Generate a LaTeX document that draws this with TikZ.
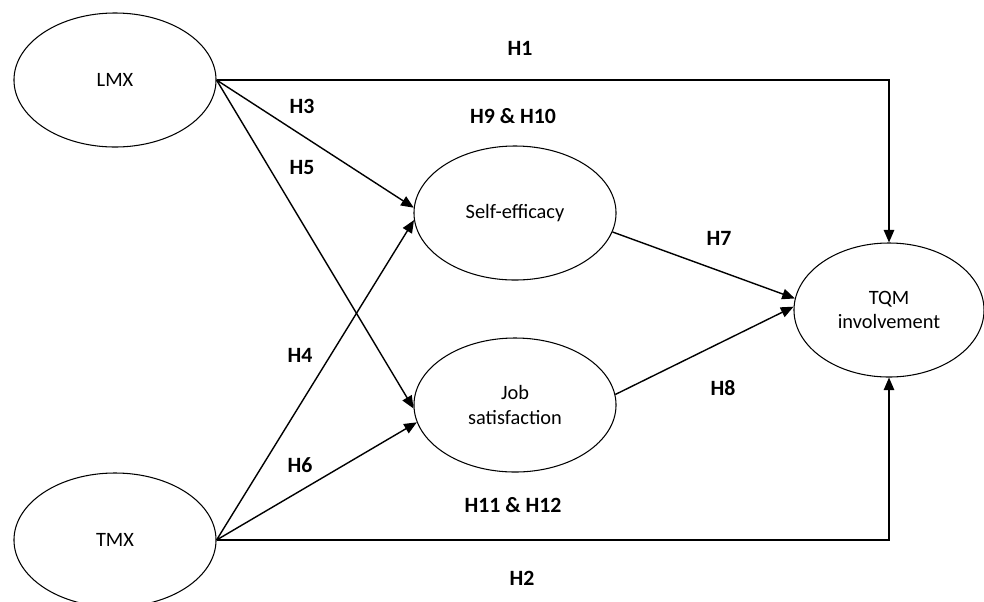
\documentclass[tikz,border=0pt]{standalone}
\usepackage{fontspec}
\setmainfont{Carlito}
\usetikzlibrary{shapes.geometric,arrows.meta}

\tikzset{
  construct/.style={
    ellipse,
    draw=black,
    line width=0.75pt,
    minimum width=5.05cm,
    minimum height=3.35cm,
    inner sep=0pt,
    align=center,
    font=\fontsize{14.5}{17.5}\selectfont
  },
  hyp/.style={font=\bfseries\fontsize{15.5}{18}\selectfont},
  link/.style={
    line width=1pt,
    -{Triangle[length=9pt,width=7.5pt]}
  }
}

\begin{document}
\begin{tikzpicture}[x=0.025cm, y=-0.025cm]
  \useasboundingbox (0,0) rectangle (984,601);

  % Exchange constructs
  \node[construct] (lmx) at (115,80) {LMX};
  \node[construct] (tmx) at (115,540) {TMX};

  % Mediators
  \node[construct] (se) at (515,213) {Self-efficacy};
  \node[construct] (js) at (515,405) {Job\\satisfaction};

  % Outcome
  \node[construct, minimum width=4.75cm] (tqm) at (889,310) {TQM\\involvement};

  % Direct paths
  \draw[link] (lmx.east) -| (tqm.north);
  \draw[link] (tmx.east) -| (tqm.south);

  % Paths to mediators
  \draw[link] (lmx.east) -- (se.177);
  \draw[link] (lmx.east) -- (js.182);
  \draw[link] (tmx.east) -- (se.184);
  \draw[link] (tmx.east) -- (js.190);

  % Mediators to outcome
  \draw[link] (se.349) -- (tqm.173);
  \draw[link] (js.6) -- (tqm.178);

  % Hypotheses
  \node[hyp] (h1) at (520,48) {H1};
  \node[hyp] (h3) at (302,106) {H3};
  \node[hyp] (h910) at (513,116) {H9 \& H10};
  \node[hyp] (h5) at (302,167) {H5};
  \node[hyp] (h7) at (719,238) {H7};
  \node[hyp] (h4) at (300,355) {H4};
  \node[hyp] (h8) at (723,388) {H8};
  \node[hyp] (h6) at (300,465) {H6};
  \node[hyp] (h1112) at (513,505) {H11 \& H12};
  \node[hyp] (h2) at (522,578) {H2};
\end{tikzpicture}
\end{document}
